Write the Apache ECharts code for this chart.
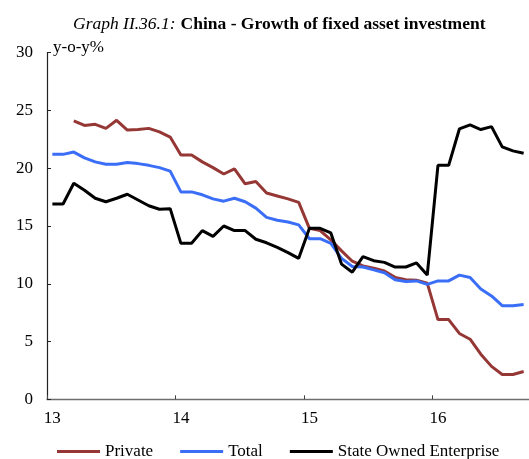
<!DOCTYPE html>
<html>
<head>
<meta charset="utf-8">
<script src="https://cdn.jsdelivr.net/npm/echarts@6/dist/echarts.min.js"></script>
<style>
html,body{margin:0;padding:0;background:#fff;}
#chart{width:529px;height:459px;}
</style>
</head>
<body>
<div id="chart"></div>
<script>
// Monthly categories, Jan 2013 .. Sep 2016
var months = [];
for (var y = 2013; y <= 2016; y++) {
  for (var m = 1; m <= 12; m++) {
    if (y === 2016 && m > 9) break;
    months.push(y + '-' + (m < 10 ? '0' + m : m));
  }
}
var yearLabels = ['13', '14', '15', '16'];

var privateInv = [null, null, 24.1, 23.7, 23.8, 23.45, 24.15, 23.3, 23.35, 23.45, 23.15, 22.7,
  21.15, 21.15, 20.55, 20.05, 19.5, 19.95, 18.65, 18.85, 17.85, 17.6, 17.35, 17.05,
  14.8, 14.6, 13.8, 12.85, 11.95, 11.55, 11.35, 11.1, 10.55, 10.35, 10.3, 10.05,
  6.9, 6.9, 5.7, 5.2, 3.9, 2.85, 2.15, 2.15, 2.4];

var totalInv = [21.2, 21.2, 21.4, 20.9, 20.55, 20.35, 20.35, 20.5, 20.4, 20.25, 20.05, 19.75,
  17.95, 17.95, 17.7, 17.35, 17.15, 17.4, 17.1, 16.55, 15.75, 15.5, 15.35, 15.1,
  13.9, 13.9, 13.5, 12.2, 11.5, 11.45, 11.2, 10.95, 10.35, 10.2, 10.25, 9.95,
  10.25, 10.25, 10.75, 10.55, 9.55, 8.95, 8.1, 8.1, 8.2];

var soeInv = [16.9, 16.9, 18.7, 18.1, 17.4, 17.1, 17.4, 17.75, 17.25, 16.75, 16.45, 16.5,
  13.5, 13.5, 14.6, 14.1, 15.0, 14.6, 14.6, 13.85, 13.55, 13.15, 12.7, 12.2,
  14.8, 14.8, 14.4, 11.7, 11.0, 12.35, 12.0, 11.85, 11.45, 11.45, 11.8, 10.75,
  20.25, 20.25, 23.4, 23.75, 23.35, 23.6, 21.85, 21.5, 21.3];

var seriesNames = ['Private', 'Total', 'State Owned Enterprise'];
var seriesColors = ['#953735', '#3A6EF7', '#000000'];

var FONT = '"Liberation Serif", "Times New Roman", serif';
var chart = echarts.init(document.getElementById('chart'), null, {renderer: 'canvas'});

chart.setOption({
  animation: false,
  backgroundColor: '#ffffff',
  title: {
    left: 68, top: 10,
    text: '{i|Graph II.36.1:} {b|China - Growth of fixed asset investment}',
    textStyle: {
      fontWeight: 'normal',
      rich: {
        i: {fontFamily: FONT, fontStyle: 'italic', fontWeight: 'normal', fontSize: 17.5, color: '#000', lineHeight: 18},
        b: {fontFamily: FONT, fontWeight: 'bold', fontSize: 17.5, color: '#000', lineHeight: 18}
      }
    }
  },
  legend: {
    left: 52, top: 438,
    icon: 'rect', itemWidth: 43, itemHeight: 3, itemGap: 27,
    textStyle: {fontFamily: FONT, fontSize: 17, color: '#000', lineHeight: 17},
    data: seriesNames
  },
  grid: {left: 47, top: 52.7, width: 486, height: 346.6, containLabel: false},
  xAxis: {
    type: 'category',
    data: months,
    boundaryGap: true,
    axisLine: {lineStyle: {color: '#6e6e6e', width: 1.3}},
    axisTick: {show: true, inside: true, length: 4, interval: 11, lineStyle: {color: '#444'}},
    axisLabel: {
      interval: 11, margin: 11,
      fontFamily: FONT, fontSize: 17, color: '#000',
      formatter: function (v) { return yearLabels[parseInt(v.slice(0, 4), 10) - 2013]; }
    },
    splitLine: {show: false}
  },
  yAxis: {
    type: 'value', min: 0, max: 30, interval: 5,
    name: 'y-o-y%', nameLocation: 'end', nameGap: 5,
    nameTextStyle: {fontFamily: FONT, fontSize: 17, color: '#000', align: 'left', verticalAlign: 'middle', padding: [0, 0, 0, 6]},
    axisLine: {show: true, lineStyle: {color: '#222', width: 1.2}},
    axisTick: {show: true, inside: true, length: 4, lineStyle: {color: '#222'}},
    axisLabel: {margin: 14, fontFamily: FONT, fontSize: 17, color: '#000'},
    splitLine: {show: false}
  },
  series: [
    {name: seriesNames[0], type: 'line', data: privateInv, showSymbol: false, symbol: 'none',
     lineStyle: {width: 3, color: seriesColors[0]}, itemStyle: {color: seriesColors[0]}},
    {name: seriesNames[1], type: 'line', data: totalInv, showSymbol: false, symbol: 'none',
     lineStyle: {width: 3, color: seriesColors[1]}, itemStyle: {color: seriesColors[1]}},
    {name: seriesNames[2], type: 'line', data: soeInv, showSymbol: false, symbol: 'none',
     lineStyle: {width: 3, color: seriesColors[2]}, itemStyle: {color: seriesColors[2]}}
  ]
});
</script>
</body>
</html>
